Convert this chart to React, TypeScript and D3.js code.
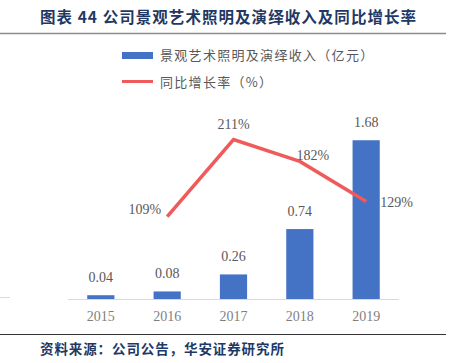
import React from "react";
import * as d3 from "d3";

const years = ["2015", "2016", "2017", "2018", "2019"];
const revenue = [0.04, 0.08, 0.26, 0.74, 1.68];
const growthYears = ["2016", "2017", "2018", "2019"];
const growth = [109, 211, 182, 129];
const revenueLabels = ["0.04", "0.08", "0.26", "0.74", "1.68"];
const growthLabels = ["109%", "211%", "182%", "129%"];

const W = 462;
const H = 363;
const title = "图表 44 公司景观艺术照明及演绎收入及同比增长率";
const source = "资料来源：公司公告，华安证券研究所";
const legendBar = "景观艺术照明及演绎收入（亿元）";
const legendLine = "同比增长率（%）";

export default function App() {
  const x = d3.scaleBand<string>().domain(years).range([68, 399]).paddingInner(0.59).paddingOuter(0.29);
  const y = d3.scaleLinear().domain([0, 2]).range([299, 110]);
  const y2 = d3.scaleLinear().domain([0, 250]).range([299, 110]);
  const bw = x.bandwidth();
  const cx = (d: string) => (x(d) as number) + bw / 2;
  const line = d3
    .line<number>()
    .x((_, i) => cx(growthYears[i]))
    .y((d) => y2(d));
  const serif = "'Liberation Serif', 'DejaVu Serif', serif";
  const cjk = "'Noto Sans CJK SC', sans-serif";
  const labelOffsets = [
    { dx: -6, dy: -3, anchor: "end" },
    { dx: 0, dy: -10, anchor: "middle" },
    { dx: 13, dy: -1, anchor: "middle" },
    { dx: 14, dy: 6, anchor: "start" },
  ];
  return (
    <svg width={W} height={H} style={{ position: "fixed", left: 0, top: 0, background: "#fff" }}>
      <text x={40} y={23} fontFamily={cjk} fontWeight="bold" fontSize={15.5} fill="#1F3864" letterSpacing={1.05}>
        {title}
      </text>
      <line x1={0} x2={446} y1={33.5} y2={33.5} stroke="#8c8c8c" strokeWidth={1.5} />
      <rect x={122} y={52} width={31} height={7} fill="#4472C4" />
      <text x={160} y={60} fontFamily={cjk} fontSize={13} fill="#595959" letterSpacing={1.3}>
        {legendBar}
      </text>
      <line x1={122} x2={153} y1={81.5} y2={81.5} stroke="#EF5B5B" strokeWidth={3} />
      <text x={160} y={87} fontFamily={cjk} fontSize={13} fill="#595959" letterSpacing={1.3}>
        {legendLine}
      </text>
      <line x1={0} x2={10} y1={297.5} y2={297.5} stroke="#d9d9d9" strokeWidth={1} />
      {years.map((d, i) => (
        <rect key={d} x={x(d)} y={y(revenue[i])} width={bw} height={y(0) - y(revenue[i])} fill="#4472C4" />
      ))}
      <line x1={68} x2={399} y1={299.5} y2={299.5} stroke="#d9d9d9" strokeWidth={1} />
      {years.map((d, i) => (
        <text key={d} x={cx(d)} y={y(revenue[i]) - 13} textAnchor="middle" fontFamily={serif} fontSize={14} fill="#595959">
          {revenueLabels[i]}
        </text>
      ))}
      {years.map((d) => (
        <text key={d} x={cx(d)} y={320.5} textAnchor="middle" fontFamily={serif} fontSize={14} fill="#7f7f7f">
          {d}
        </text>
      ))}
      <path d={line(growth) || ""} fill="none" stroke="#EF5B5B" strokeWidth={3.5} />
      {growth.map((g, i) => (
        <text
          key={i}
          x={cx(growthYears[i]) + labelOffsets[i].dx}
          y={y2(g) + labelOffsets[i].dy}
          textAnchor={labelOffsets[i].anchor}
          fontFamily={serif}
          fontSize={14}
          fill="#595959"
        >
          {growthLabels[i]}
        </text>
      ))}
      <line x1={0} x2={446} y1={334.5} y2={334.5} stroke="#333" strokeWidth={1} />
      <text x={40} y={354} fontFamily={cjk} fontWeight="bold" fontSize={13.5} fill="#1F3864" letterSpacing={0.9}>
        {source}
      </text>
    </svg>
  );
}
